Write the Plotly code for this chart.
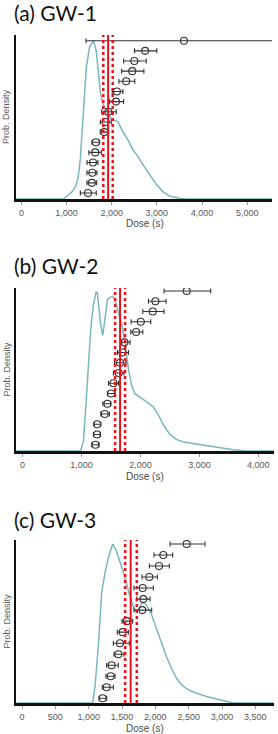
import plotly.graph_objects as go

W, H = 278, 734

# ---------------- data ----------------
titles = ["(a) GW-1", "(b) GW-2", "(c) GW-3"]

# density curves (relative density, fraction of panel height)
gw1_kde_x = [-120, 921, 995, 1105, 1201, 1260, 1304, 1341, 1385, 1437, 1511, 1599, 1658, 1710, 1754,
             1805, 1879, 1990, 2063, 2137, 2248, 2358, 2469, 2579, 2690, 2837, 2985, 3132, 3279,
             3500, 3648, 5550]
gw1_kde_y = [0, 0, 0.014, 0.04, 0.075, 0.14, 0.24, 0.40, 0.60, 0.80, 0.93, 0.965, 0.90, 0.76, 0.64,
             0.58, 0.54, 0.49, 0.48, 0.47, 0.41, 0.36, 0.30, 0.26, 0.21, 0.15, 0.09, 0.045, 0.018,
             0.004, 0, 0]

gw2_kde_x = [-110, 980, 994, 1034, 1079, 1119, 1158, 1203, 1249, 1270, 1294, 1328, 1362, 1401, 1441,
             1486, 1531, 1571, 1627, 1684, 1740, 1797, 1853, 1910, 1994, 2107, 2220, 2305, 2390,
             2503, 2616, 2729, 2898, 3124, 3350, 3576, 3802, 4260]
gw2_kde_y = [0, 0, 0.01, 0.06, 0.30, 0.55, 0.75, 0.90, 0.977, 0.97, 0.88, 0.77, 0.71, 0.82, 0.93,
             0.943, 0.95, 0.92, 0.85, 0.78, 0.66, 0.50, 0.40, 0.35, 0.33, 0.30, 0.27, 0.22, 0.16,
             0.10, 0.07, 0.055, 0.045, 0.035, 0.02, 0.008, 0, 0]

gw3_kde_x = [-80, 1060, 1095, 1145, 1195, 1245, 1295, 1360, 1410, 1470, 1530, 1595, 1645, 1695, 1745,
             1810, 1870, 1945, 2020, 2095, 2170, 2245, 2320, 2395, 2495, 2620, 2770, 2920, 3070,
             3170, 3780]
gw3_kde_y = [0, 0, 0.10, 0.35, 0.68, 0.80, 0.89, 0.975, 0.94, 0.87, 0.79, 0.69, 0.62, 0.57, 0.57,
             0.62, 0.60, 0.54, 0.45, 0.36, 0.28, 0.21, 0.15, 0.11, 0.08, 0.06, 0.04, 0.025, 0.008,
             0, 0]

# individual aliquot doses (listed top to bottom) with errors
gw1_dose = [3600, 2740, 2500, 2455, 2320, 2115, 2095, 1925, 1865, 1835, 1650, 1635, 1585, 1570, 1560, 1475]
gw1_err_minus = [2170, 235, 236, 236, 161, 103, 140, 147, 118, 89, 88, 140, 132, 118, 110, 170]
gw1_err_plus = [2500, 258, 265, 258, 192, 133, 169, 175, 126, 96, 82, 133, 110, 103, 106, 183]

gw2_dose = [2785, 2254, 2209, 2006, 1927, 1729, 1695, 1655, 1633, 1542, 1503, 1441, 1395, 1266, 1266, 1237]
gw2_err_minus = [384, 118, 169, 164, 91, 45, 85, 96, 91, 84, 62, 79, 67, 51, 63, 62]
gw2_err_plus = [407, 181, 192, 169, 113, 96, 102, 102, 90, 85, 68, 56, 80, 62, 50, 62]

gw3_dose = [2470, 2120, 2055, 1910, 1810, 1820, 1805, 1570, 1510, 1470, 1445, 1345, 1330, 1270, 1210]
gw3_err_minus = [250, 140, 145, 110, 130, 100, 125, 70, 80, 100, 65, 75, 70, 65, 55]
gw3_err_plus = [275, 140, 155, 120, 160, 100, 140, 90, 85, 140, 85, 100, 65, 100, 60]

# central dose (solid) and its lower / upper bounds (dotted)
central_dose = [1920, 1655, 1630]
central_low = [1813, 1571, 1548]
central_high = [2022, 1740, 1722]

x_ranges = [[-120, 5550], [-110, 4265], [-90, 3780]]
x_dticks = [1000, 1000, 500]
rank_ranges = [[0.41, 16.56], [0.385, 16.29], [0.574, 15.36]]

kdes = [(gw1_kde_x, gw1_kde_y), (gw2_kde_x, gw2_kde_y), (gw3_kde_x, gw3_kde_y)]
points = [(gw1_dose, gw1_err_minus, gw1_err_plus),
          (gw2_dose, gw2_err_minus, gw2_err_plus),
          (gw3_dose, gw3_err_minus, gw3_err_plus)]

# ---------------- layout geometry (pixels) ----------------
panel_top = [35, 288, 540]
panel_bot = [199, 451, 703]
title_y = [13, 265, 519]
xlab_y = [223, 476, 728]
px_left, px_right = 16, [272, 274, 274]

def fy(p):
    return 1 - p / H

def fx(p):
    return p / W

fig = go.Figure()
layout = dict(width=W, height=H, margin=dict(l=0, r=0, t=0, b=0),
              paper_bgcolor="white", plot_bgcolor="white", showlegend=False,
              annotations=[], shapes=[])

tickfont = dict(family="Liberation Sans, Arial", size=9, color="#595959")

for i in range(3):
    xa = "x" if i == 0 else f"x{i+1}"
    ya = "y" if i == 0 else f"y{i+1}"
    yr = f"y{i+4}"
    kx, ky = kdes[i]
    fig.add_trace(go.Scatter(x=kx, y=ky, mode="lines", xaxis=xa, yaxis=ya,
                             line=dict(color="#7ab6c0", width=1.5), hoverinfo="skip"))
    dose, em, ep = points[i]
    n = len(dose)
    ranks = [n - k for k in range(n)]
    fig.add_trace(go.Scatter(x=dose, y=ranks, mode="markers", xaxis=xa, yaxis=yr,
                             marker=dict(symbol="circle-open", size=7, color="#333333",
                                         line=dict(width=1.1, color="#333333")),
                             error_x=dict(type="data", symmetric=False, array=ep, arrayminus=em,
                                          color="#333333", thickness=1.1, width=2.5)))
    # red central-dose lines
    for val, dash in [(central_low[i], "dot"), (central_high[i], "dot"), (central_dose[i], "solid")]:
        layout["shapes"].append(dict(type="line", xref=xa, yref=f"{ya} domain",
                                     x0=val, x1=val, y0=0, y1=1,
                                     line=dict(color="#e8141b", width=2.5 if dash == "dot" else 2, dash=dash)))

    dom_x = [fx(px_left), fx(px_right[i])]
    dom_y = [fy(panel_bot[i]), fy(panel_top[i])]
    xkey = "xaxis" if i == 0 else f"xaxis{i+1}"
    ykey = "yaxis" if i == 0 else f"yaxis{i+1}"
    layout[xkey] = dict(domain=dom_x, anchor=ya, range=x_ranges[i], dtick=x_dticks[i], tick0=0,
                        tickformat=",d", showgrid=False, zeroline=False,
                        showline=True, linecolor="#111111", linewidth=2.5,
                        ticks="outside", ticklen=3, tickcolor="#9a9a9a", tickwidth=1,
                        tickfont=tickfont)
    layout[ykey] = dict(domain=dom_y, anchor=xa, range=[0, 1], showgrid=False, zeroline=False,
                        showline=True, linecolor="#111111", linewidth=2,
                        showticklabels=False, ticks="")
    layout[f"yaxis{i+4}"] = dict(overlaying=ya, anchor=xa, range=rank_ranges[i], visible=False)

    layout["annotations"].append(dict(text=titles[i], xref="paper", yref="paper",
                                      x=fx(12), y=fy(title_y[i]), xanchor="left", yanchor="middle",
                                      showarrow=False,
                                      font=dict(family="Lato, Open Sans", size=21, color="#111111")))
    layout["annotations"].append(dict(text="Dose (s)", xref="paper", yref="paper",
                                      x=fx(145), y=fy(xlab_y[i]), xanchor="center", yanchor="middle",
                                      showarrow=False,
                                      font=dict(family="Liberation Sans, Arial", size=10, color="#4a4a4a")))
    layout["annotations"].append(dict(text="Prob. Density", xref="paper", yref="paper",
                                      x=fx(6), y=fy((panel_top[i] + panel_bot[i]) / 2),
                                      xanchor="center", yanchor="middle", textangle=-90,
                                      showarrow=False,
                                      font=dict(family="Liberation Sans, Arial", size=9, color="#595959")))

fig.update_layout(**layout)
fig.write_html("out.html")
